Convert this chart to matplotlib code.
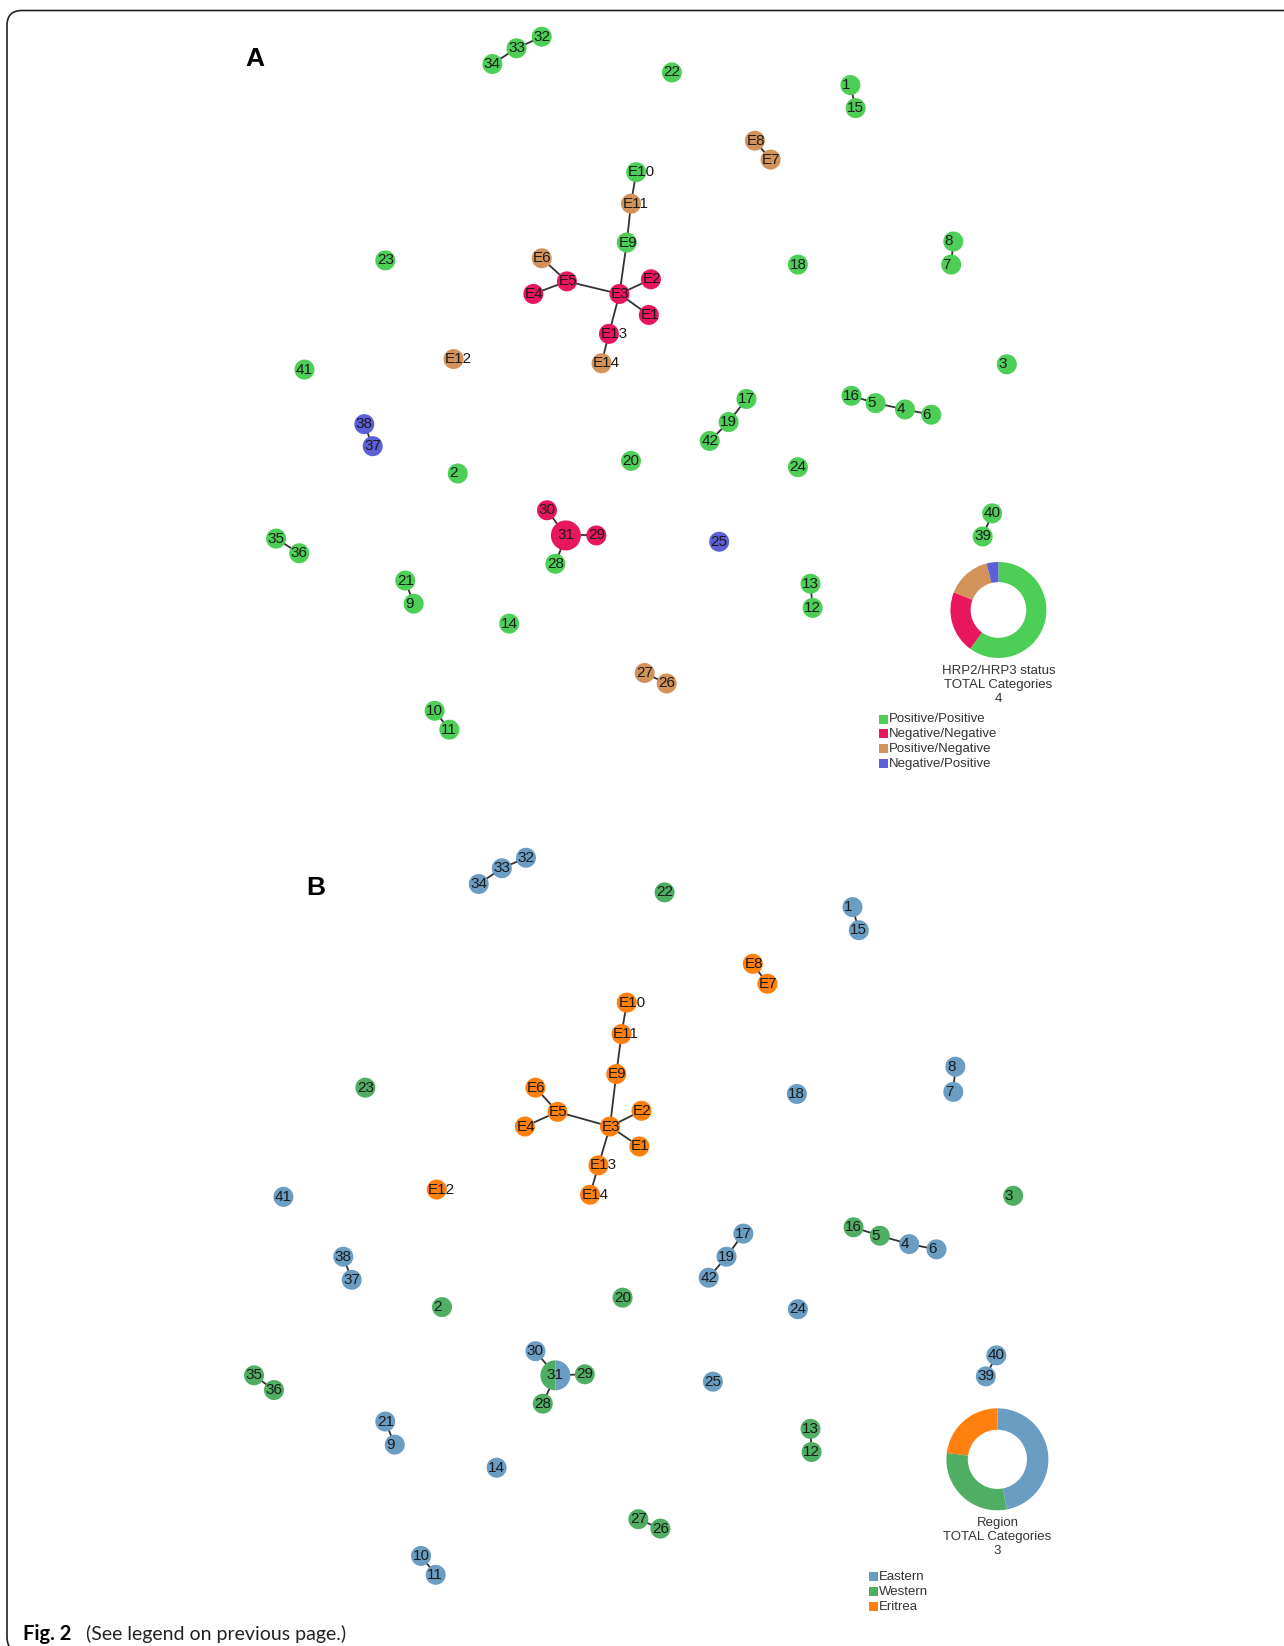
import numpy as np
import matplotlib.pyplot as plt
from matplotlib.patches import Wedge, Rectangle, FancyBboxPatch

# node ids
node_ids = [str(i) for i in range(1, 43)] + ["E%d" % i for i in range(1, 15)]

# layout of panel A (layout units, y downward)
xa = [810, 436, 959, 862, 834, 887, 906, 908, 394, 414, 428, 774, 772, 485, 815, 811, 711, 760, 694, 601, 386,
      640, 367, 760, 685, 635, 614, 529, 568, 521, 539, 516, 492, 469, 263, 285, 355, 347, 936, 945, 290, 676,
      618, 620, 590, 508, 540, 516, 734, 719, 597, 606, 601, 432, 580, 573]
ya = [81, 451, 347, 390, 384, 395, 252, 230, 575, 677, 695, 579, 556, 594, 103, 377, 380, 252, 402, 439, 553,
      69, 248, 445, 516, 651, 641, 537, 510, 486, 510, 35, 46, 61, 513, 527, 425, 404, 511, 489, 352, 420,
      300, 266, 280, 280, 268, 246, 152, 134, 231, 164, 194, 342, 318, 346]

# layout of panel B
xb = [812, 421, 965, 866, 838, 892, 908, 910, 376, 401, 415, 773, 772, 473, 818, 813, 708, 759, 692, 593, 367,
      633, 348, 760, 679, 629, 608, 517, 557, 510, 529, 501, 478, 456, 242, 261, 335, 327, 939, 949, 270, 675,
      609, 611, 581, 500, 531, 510, 731, 717, 587, 597, 592, 416, 570, 562]
yb = [864, 1245, 1139, 1185, 1177, 1190, 1040, 1016, 1376, 1482, 1500, 1383, 1361, 1398, 886, 1169, 1175, 1042,
      1197, 1236, 1354, 850, 1036, 1247, 1316, 1456, 1447, 1337, 1309, 1287, 1310, 817, 827, 842, 1310, 1324,
      1219, 1197, 1311, 1291, 1140, 1217, 1092, 1058, 1073, 1073, 1059, 1036, 937, 918, 1023, 955, 985, 1133,
      1110, 1138]

# samples per node
node_count = {"31": 2}

edges = [("32", "33"), ("33", "34"), ("1", "15"), ("E8", "E7"), ("E10", "E11"), ("E11", "E9"), ("E9", "E3"),
         ("E6", "E5"), ("E5", "E4"), ("E5", "E3"), ("E3", "E2"), ("E3", "E1"), ("E3", "E13"), ("E13", "E14"),
         ("8", "7"), ("38", "37"), ("17", "19"), ("19", "42"), ("16", "5"), ("5", "4"), ("4", "6"),
         ("30", "31"), ("31", "29"), ("31", "28"), ("40", "39"), ("35", "36"), ("21", "9"), ("13", "12"),
         ("27", "26"), ("10", "11")]

status_names = ["Positive/Positive", "Negative/Negative", "Positive/Negative", "Negative/Positive"]
status_share = [60, 21, 15, 4]
status_a = {n: "Positive/Positive" for n in node_ids}
for n in ["29", "30", "31", "E1", "E2", "E3", "E4", "E5", "E13"]:
    status_a[n] = "Negative/Negative"
for n in ["26", "27", "E6", "E7", "E8", "E11", "E12", "E14"]:
    status_a[n] = "Positive/Negative"
for n in ["25", "37", "38"]:
    status_a[n] = "Negative/Positive"

region_names = ["Eastern", "Western", "Eritrea"]
region_share = [47, 30, 23]
region_b = {n: "Eastern" for n in node_ids}
for n in ["2", "3", "5", "12", "13", "16", "20", "22", "23", "26", "27", "28", "29", "35", "36"]:
    region_b[n] = "Western"
for n in node_ids[42:]:
    region_b[n] = "Eritrea"
region_b["31"] = "Western|Eastern"

status_colors = {"Positive/Positive": "#4dcf57", "Negative/Negative": "#e8175d",
                 "Positive/Negative": "#d2935b", "Negative/Positive": "#5d5fd6"}
region_colors = {"Eastern": "#6b9dc2", "Western": "#4fae63", "Eritrea": "#ff7f0f"}

W, H = 1284, 1646
S = W / 1223.0
LABEL_FONT = "Liberation Sans"


def fx(x):
    return np.asarray(x) * S


def fy(y):
    return H - np.asarray(y) * S


fig = plt.figure(figsize=(W / 100, H / 100), dpi=100)
ax = fig.add_axes([0, 0, 1, 1])
ax.set_xlim(0, W)
ax.set_ylim(0, H)
ax.set_aspect("equal")
ax.axis("off")

# page frame (open on the right and bottom)
frame = FancyBboxPatch((7, -6), 1400, H - 10.5 + 6, boxstyle="round,pad=0,rounding_size=15",
                       fill=False, ec="#222222", lw=1.2, clip_on=True)
ax.add_patch(frame)


def draw_network(xs, ys, cats, colors):
    px = dict(zip(node_ids, fx(xs)))
    py = dict(zip(node_ids, fy(ys)))
    for a, b in edges:
        ax.plot([px[a], px[b]], [py[a], py[b]], color="#333333", lw=1.3, zorder=1)
    for n in node_ids:
        c = node_count.get(n, 1)
        r = 10 if c == 1 else 15
        cat = cats[n]
        if "|" in cat:
            left, right = cat.split("|")
            ax.add_patch(Wedge((px[n], py[n]), r, 90, 270, color=colors[left], lw=0, zorder=2))
            ax.add_patch(Wedge((px[n], py[n]), r, 270, 90, color=colors[right], lw=0, zorder=2))
        else:
            ax.add_patch(Wedge((px[n], py[n]), r, 0, 360, color=colors[cat], lw=0, zorder=2))
        ax.text(px[n] - 8.5, py[n], n, ha="left", va="center", fontsize=11, family=LABEL_FONT,
                color="#1a1a1a", zorder=3)


def draw_donut(cx, cy, radius, shares, names, colors, title, legend_x, legend_y):
    x0, y0 = fx(cx), fy(cy)
    ax.pie(shares, colors=[colors[n] for n in names], center=(x0, y0), radius=radius, startangle=90,
           counterclock=False, wedgeprops=dict(width=radius * 0.42, lw=0), frame=True)
    lines = [title, "TOTAL Categories", str(len(names))]
    for i, t in enumerate(lines):
        ax.text(x0, y0 - radius - 13 - i * 13.8, t, ha="center", va="center", fontsize=9.5,
                family=LABEL_FONT, color="#333333")
    lx, ly = fx(legend_x), fy(legend_y)
    for i, n in enumerate(names):
        yy = ly - i * 14.8
        ax.add_patch(Rectangle((lx, yy - 4.5), 9, 9, color=colors[n], lw=0))
        ax.text(lx + 10, yy, n, ha="left", va="center", fontsize=9.5, family=LABEL_FONT, color="#333333")


draw_network(xa, ya, status_a, status_colors)
draw_network(xb, yb, region_b, region_colors)
draw_donut(951, 581, 48, status_share, status_names, status_colors, "HRP2/HRP3 status", 837, 685)
draw_donut(950, 1390, 51, region_share, region_names, region_colors, "Region", 828, 1502)

ax.set_xlim(0, W)
ax.set_ylim(0, H)

ax.text(fx(243), fy(56), "A", ha="center", va="center", fontsize=19, fontweight="bold", family=LABEL_FONT)
ax.text(fx(301), fy(846), "B", ha="center", va="center", fontsize=19, fontweight="bold", family=LABEL_FONT)

ax.text(23, fy(1556), "Fig. 2", ha="left", va="center", fontsize=14.5, fontweight="bold", family="Lato")
ax.text(86, fy(1556), "(See legend on previous page.)", ha="left", va="center", fontsize=14, family="Lato",
        color="#222222")

fig.savefig("out.png", dpi=100)
